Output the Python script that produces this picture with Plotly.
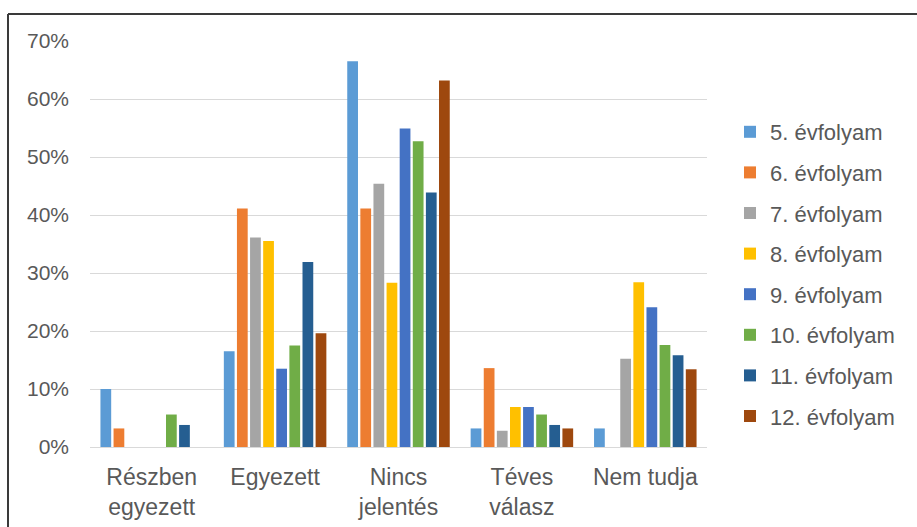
import plotly.graph_objects as go

categories = ["Részben<br>egyezett", "Egyezett", "Nincs<br>jelentés", "Téves<br>válasz", "Nem tudja"]
series_names = ["5. évfolyam", "6. évfolyam", "7. évfolyam", "8. évfolyam",
                "9. évfolyam", "10. évfolyam", "11. évfolyam", "12. évfolyam"]
colors = ["#5B9BD5", "#ED7D31", "#A5A5A5", "#FFC000",
          "#4472C4", "#70AD47", "#255E91", "#9E480E"]

ev5 = [0.100, 0.165, 0.665, 0.032, 0.032]
ev6 = [0.032, 0.411, 0.411, 0.136, 0.0]
ev7 = [0.0, 0.361, 0.454, 0.028, 0.152]
ev8 = [0.0, 0.355, 0.283, 0.069, 0.284]
ev9 = [0.0, 0.135, 0.549, 0.069, 0.241]
ev10 = [0.056, 0.175, 0.527, 0.056, 0.176]
ev11 = [0.038, 0.319, 0.439, 0.038, 0.158]
ev12 = [0.0, 0.196, 0.632, 0.032, 0.134]
series_values = [ev5, ev6, ev7, ev8, ev9, ev10, ev11, ev12]

y_ticks = [0, 0.1, 0.2, 0.3, 0.4, 0.5, 0.6, 0.7]

FONT = "Liberation Sans, Arial, sans-serif"
TXT = "#595959"

fig = go.Figure()
for i, (name, vals, col) in enumerate(zip(series_names, series_values, colors)):
    fig.add_trace(go.Bar(x=categories, y=vals, name=name, marker_color=col,
                         marker_line_width=0, legendgroup=f"g{i}"))

W, H = 917, 527
ml, mr, mt, mb = 90, 210, 41, 80
pw, ph = W - ml - mr, H - mt - mb

def px(xp):
    return (xp - ml) / pw

def py(yp):
    return 1 - (yp - mt) / ph

fig.update_layout(
    width=W, height=H,
    margin=dict(l=ml, r=mr, t=mt, b=mb, pad=0, autoexpand=False),
    paper_bgcolor="white", plot_bgcolor="white",
    barmode="group", bargap=0.15, bargroupgap=0.18,
    font=dict(family=FONT, color=TXT, size=21),
    showlegend=True,
    legend=dict(x=px(730), xanchor="left", y=py(111), yanchor="top",
                font=dict(size=22, color=TXT), tracegroupgap=9,
                bgcolor="rgba(0,0,0,0)", itemwidth=30),
    xaxis=dict(showgrid=False, showline=False, ticks="", automargin=False,
               tickfont=dict(size=23, color=TXT), ticklabelstandoff=14),
    yaxis=dict(range=[0, 0.7], tickvals=y_ticks, tickformat=".0%",
               automargin=False,
               showgrid=True, gridcolor="#D9D9D9", gridwidth=1,
               zeroline=True, zerolinecolor="#D9D9D9", zerolinewidth=1,
               showline=False, ticks="", tickfont=dict(size=21, color=TXT),
               ticklabelstandoff=20),
    shapes=[
        dict(type="line", xref="paper", yref="paper", x0=px(8), x1=px(920),
             y0=py(14), y1=py(14), line=dict(color="#3A3A3A", width=2)),
        dict(type="line", xref="paper", yref="paper", x0=px(8), x1=px(8),
             y0=py(14), y1=py(530), line=dict(color="#3A3A3A", width=2)),
    ],
)

fig.write_html("out.html")
